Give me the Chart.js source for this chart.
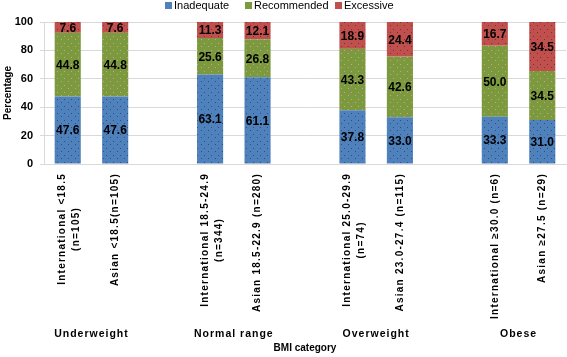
<!DOCTYPE html>
<html lang="en">
<head>
  <meta charset="UTF-8">
  <title>BMI category</title>
  <script src="https://cdn.jsdelivr.net/npm/chart.js"></script>
  <style>
    html, body { margin: 0; padding: 0; background: #fff; }
    .wrap { width: 567px; height: 357px; position: relative; }
  </style>
</head>
<body>
  <div class="wrap"><canvas id="grafico" width="567" height="357"></canvas></div>

  <script>
    // categories (empty ones are the gaps between BMI groups)
    const categorias = [
      ['International <18.5', '(n=105)'],
      ['Asian <18.5(n=105)'],
      '',
      ['International 18.5-24.9', '(n=344)'],
      ['Asian 18.5-22.9 (n=280)'],
      '',
      ['International 25.0-29.9', '(n=74)'],
      ['Asian 23.0-27.4 (n=115)'],
      '',
      ['International \u226530.0 (n=6)'],
      ['Asian \u226527.5 (n=29)']
    ];
    const grupos = ['Underweight', 'Normal range', 'Overweight', 'Obese'];
    const inicioGrupo = [0, 3, 6, 9];

    const series = ['Inadequate', 'Recommended', 'Excessive'];
    const inadequate  = [47.6, 47.6, null, 63.1, 61.1, null, 37.8, 33.0, null, 33.3, 31.0];
    const recommended = [44.8, 44.8, null, 25.6, 26.8, null, 43.3, 42.6, null, 50.0, 34.5];
    const excessive   = [7.6, 7.6, null, 11.3, 12.1, null, 18.9, 24.4, null, 16.7, 34.5];
    const yTicks = [0, 20, 40, 60, 80, 100];

    const cores = ['#4f81bd', '#7a9a3d', '#c0504d'];
    const pontos = ['#2f4f78', '#d79a9a', '#7e2f2c'];

    // stippled texture like the original
    function textura(base, ponto) {
      const c = document.createElement('canvas');
      c.width = 7; c.height = 7;
      const g = c.getContext('2d');
      g.fillStyle = base;
      g.fillRect(0, 0, 7, 7);
      g.fillStyle = ponto;
      g.fillRect(1, 1, 1, 1);
      g.fillRect(5, 4, 1, 1);
      return g.createPattern(c, 'repeat');
    }

    const fonte = '"Liberation Sans", Arial, sans-serif';

    const rotulos = {
      id: 'rotulos',
      afterDatasetsDraw(chart) {
        const ctx = chart.ctx;
        ctx.save();
        ctx.fillStyle = '#000';
        ctx.font = 'bold 12px ' + fonte;
        ctx.textAlign = 'center';
        ctx.textBaseline = 'middle';
        chart.data.datasets.forEach((ds, i) => {
          chart.getDatasetMeta(i).data.forEach((bar, j) => {
            const v = ds.data[j];
            if (v == null) return;
            ctx.fillText(v.toFixed(1), bar.x, (bar.y + bar.base) / 2 + 1);
          });
        });
        ctx.restore();
      },
      afterDraw(chart) {
        const ctx = chart.ctx;
        const x = chart.scales.x;
        const area = chart.chartArea;
        ctx.save();
        ctx.fillStyle = '#000';

        // rotated category labels
        ctx.font = 'bold 10px ' + fonte;
        ctx.letterSpacing = '1.25px';
        ctx.textBaseline = 'middle';
        ctx.textAlign = 'center';
        categorias.forEach((lab, i) => {
          if (!lab) return;
          const linhas = Array.isArray(lab) ? lab : [lab];
          const w = Math.max(...linhas.map(l => ctx.measureText(l).width));
          const px = x.getPixelForValue(i);
          ctx.save();
          ctx.translate(px, area.bottom + 9);
          ctx.rotate(-Math.PI / 2);
          linhas.forEach((l, k) => {
            const off = (k - (linhas.length - 1) / 2) * 14 + (linhas.length > 1 ? 2 : 0);
            ctx.fillText(l, -w / 2, off);
          });
          ctx.restore();
        });

        // group labels
        ctx.font = 'bold 10.5px ' + fonte;
        ctx.letterSpacing = '1px';
        grupos.forEach((gname, i) => {
          const a = x.getPixelForValue(inicioGrupo[i]);
          const b = x.getPixelForValue(inicioGrupo[i] + 1);
          ctx.fillText(gname, (a + b) / 2, 334);
        });

        // legend
        ctx.letterSpacing = '0px';
        ctx.font = '11px ' + fonte;
        ctx.textAlign = 'left';
        const legX = [165, 245, 335];
        series.forEach((s, i) => {
          ctx.fillStyle = cores[i];
          ctx.fillRect(legX[i], 2, 7, 7);
          ctx.fillStyle = '#000';
          ctx.fillText(s, legX[i] + 9, 6);
        });
        ctx.restore();
      }
    };

    new Chart(document.getElementById('grafico'), {
      type: 'bar',
      data: {
        labels: categorias,
        datasets: [
          { label: series[0], data: inadequate, backgroundColor: textura(cores[0], pontos[0]) },
          { label: series[1], data: recommended, backgroundColor: textura(cores[1], pontos[1]) },
          { label: series[2], data: excessive, backgroundColor: textura(cores[2], pontos[2]) }
        ]
      },
      options: {
        responsive: false,
        animation: false,
        devicePixelRatio: 1,
        layout: { padding: { top: 22, right: 1, left: 0, bottom: 0 } },
        datasets: { bar: { categoryPercentage: 1, barPercentage: 0.55 } },
        plugins: {
          legend: { display: false },
          tooltip: { enabled: false }
        },
        scales: {
          x: {
            stacked: true,
            grid: { display: false, drawTicks: false },
            border: { color: '#d9d9d9' },
            ticks: { display: false },
            title: {
              display: true,
              text: 'BMI category',
              color: '#000',
              font: { family: fonte, size: 10, weight: 'bold' },
              padding: { top: 0, bottom: 3 }
            },
            afterFit(s) { s.height = 193; }
          },
          y: {
            stacked: true,
            min: 0,
            max: 100,
            afterBuildTicks(s) { s.ticks = yTicks.map(v => ({ value: v })); },
            grid: { color: '#d9d9d9', tickLength: 4 },
            border: { color: '#d9d9d9' },
            ticks: {
              color: '#000',
              padding: 7,
              font: { family: fonte, size: 11, weight: 'bold' }
            },
            title: {
              display: true,
              text: 'Percentage',
              color: '#000',
              font: { family: fonte, size: 10, weight: 'bold' },
              padding: { top: 2, bottom: 0 }
            },
            afterFit(s) { s.width = 44; }
          }
        }
      },
      plugins: [rotulos]
    });
  </script>
</body>
</html>
